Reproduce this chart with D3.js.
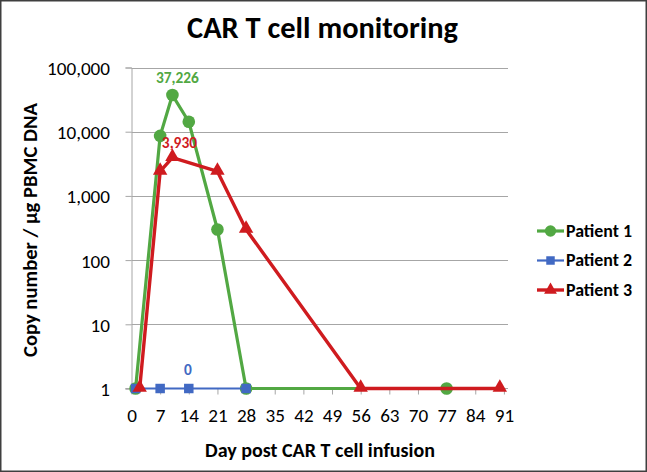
<!DOCTYPE html>
<html><head><meta charset="utf-8">
<script src="https://cdn.jsdelivr.net/npm/d3@7"></script>
<style>
html,body{margin:0;padding:0;background:#fff;}
svg{display:block;}
svg text{font-family:Carlito,Calibri,Lato,"Open Sans",sans-serif;}
</style></head>
<body>
<svg id="chart" width="647" height="472"></svg>
<script>
const title = "CAR T cell monitoring";
const xTitle = "Day post CAR T cell infusion";
const yTitle = "Copy number / µg PBMC DNA";
const seriesNames = ["Patient 1", "Patient 2", "Patient 3"];
const p1Days = [1, 7, 10, 14, 21, 28, 77];
const p1Values = [1, 8600, 37226, 14300, 300, 1, 1];
const p2Days = [1, 7, 14, 28];
const p2Values = [1, 1, 1, 1];
const p3Days = [2, 7, 10, 21, 28, 56, 90];
const p3Values = [1, 2400, 3930, 2400, 300, 1, 1];
const xTicks = [0, 7, 14, 21, 28, 35, 42, 49, 56, 63, 70, 77, 84, 91];
const yTicks = [1, 10, 100, 1000, 10000, 100000];
const dataLabels = [
  {series: 0, day: 10, value: 37226, text: "37,226"},
  {series: 2, day: 10, value: 3930, text: "3,930"},
  {series: 1, day: 14, value: 1, text: "0"}
];
const colors = ["#52a843", "#4169c3", "#cf1b1f"];
const shapes = [d3.symbolCircle, d3.symbolSquare, d3.symbolTriangle];

const FONT = "Carlito, Calibri, Lato, 'Open Sans', sans-serif";
function fitSize(textSel, target) {
  const node = textSel.node();
  textSel.attr("font-size", 20);
  const w = node.getComputedTextLength();
  const s = 20 * target / w;
  textSel.attr("font-size", s);
  return s;
}

const svg = d3.select("#chart");
const W = 647, H = 472;
const x = d3.scaleLinear().domain([0, 92]).range([131.5, 508]);
const y = d3.scaleLog().domain([1, 100000]).range([388.5, 67.5]);

svg.append("rect").attr("x", 0.75).attr("y", 0.75).attr("width", W - 1.5).attr("height", H - 1.5)
  .attr("fill", "#fff").attr("stroke", "#3f3f3f").attr("stroke-width", 1.5);

// gridlines
svg.append("g").selectAll("line").data(yTicks.slice(1)).join("line")
  .attr("x1", x(0)).attr("x2", 508).attr("y1", d => Math.round(y(d)) + 0.5).attr("y2", d => Math.round(y(d)) + 0.5)
  .attr("stroke", "#a6a6a6").attr("stroke-width", 1);

// tick font size fitted to the reference label width
const probe = svg.append("text").attr("font-family", FONT).text("100,000");
const tickFont = fitSize(probe, 63);
probe.remove();

// y axis
const yAxis = d3.axisLeft(y).tickValues(yTicks).tickFormat(d3.format(",")).tickSizeOuter(0).tickSize(6);
const gy = svg.append("g").attr("transform", `translate(${x(0)},0)`).call(yAxis).attr("font-family", FONT);
gy.select(".domain").attr("stroke", "#a6a6a6");
gy.selectAll(".tick line").attr("stroke", "#a6a6a6");
gy.selectAll("text").attr("font-size", tickFont).attr("fill", "#000").attr("x", -21.5).attr("dy", "0.36em");

// x axis
const xAxis = d3.axisBottom(x).tickValues(xTicks).tickSizeOuter(0).tickSize(6);
const gx = svg.append("g").attr("transform", `translate(0,${y(1)})`).call(xAxis).attr("font-family", FONT);
gx.select(".domain").attr("stroke", "#a6a6a6").attr("d", `M${x(0) - 6},0H508`);
gx.selectAll(".tick line").attr("stroke", "#a6a6a6");
gx.selectAll("text").attr("font-size", tickFont).attr("fill", "#000").attr("y", 33).attr("dy", 0);

// series
const series = [
  {days: p1Days, values: p1Values, width: 3.2, size: 125},
  {days: p2Days, values: p2Values, width: 2.2, size: 90},
  {days: p3Days, values: p3Values, width: 3.4, size: 90}
];
const line = d3.line().x(d => x(d[0])).y(d => y(d[1]));
series.forEach((s, i) => {
  const pts = s.days.map((d, j) => [d, s.values[j]]);
  const g = svg.append("g");
  g.append("path").datum(pts).attr("d", line).attr("fill", "none")
    .attr("stroke", colors[i]).attr("stroke-width", s.width).attr("stroke-linejoin", "round");
  g.selectAll("path.m").data(pts).join("path").attr("class", "m")
    .attr("transform", d => `translate(${x(d[0])},${y(d[1]) + (i === 2 ? -1 : 0)})`)
    .attr("d", d3.symbol().type(shapes[i]).size(s.size)).attr("fill", colors[i]);
});

// data labels
const dl = svg.append("g").selectAll("text").data(dataLabels).join("text")
  .attr("x", d => x(d.day) + (d.series === 0 ? 5 : (d.series === 2 ? 7 : -1)))
  .attr("y", d => y(d.value) - (d.series === 0 ? 12.5 : (d.series === 2 ? 10 : 13.5)))
  .attr("text-anchor", "middle").attr("font-weight", "bold")
  .attr("fill", d => colors[d.series]).text(d => d.text);
const dlSize = fitSize(dl.filter((d, i) => i === 0), 43);
dl.attr("font-size", dlSize);

// titles
const t = svg.append("text").attr("x", 322.5).attr("y", 38).attr("text-anchor", "middle")
  .attr("font-weight", "bold").text(title);
fitSize(t, 271);
const xt = svg.append("text").attr("x", 320).attr("y", 457).attr("text-anchor", "middle")
  .attr("font-weight", "bold").text(xTitle);
fitSize(xt, 230);
const yt = svg.append("text").attr("transform", "translate(37,230) rotate(-90)").attr("text-anchor", "middle")
  .attr("font-weight", "bold").text(yTitle);
fitSize(yt, 254);

// legend
const lg = svg.append("g");
let legSize = null;
seriesNames.forEach((n, i) => {
  const ly = 231 + i * 29.5;
  lg.append("line").attr("x1", 537).attr("x2", 564).attr("y1", ly).attr("y2", ly)
    .attr("stroke", colors[i]).attr("stroke-width", series[i].width);
  lg.append("path").attr("transform", `translate(550.5,${ly})`)
    .attr("d", d3.symbol().type(shapes[i]).size(series[i].size * 0.8)).attr("fill", colors[i]);
  const tx = lg.append("text").attr("x", 566).attr("y", ly + 5.5).attr("font-weight", "bold").text(n);
  if (legSize === null) legSize = fitSize(tx, 66); else tx.attr("font-size", legSize);
});
</script>
</body></html>
